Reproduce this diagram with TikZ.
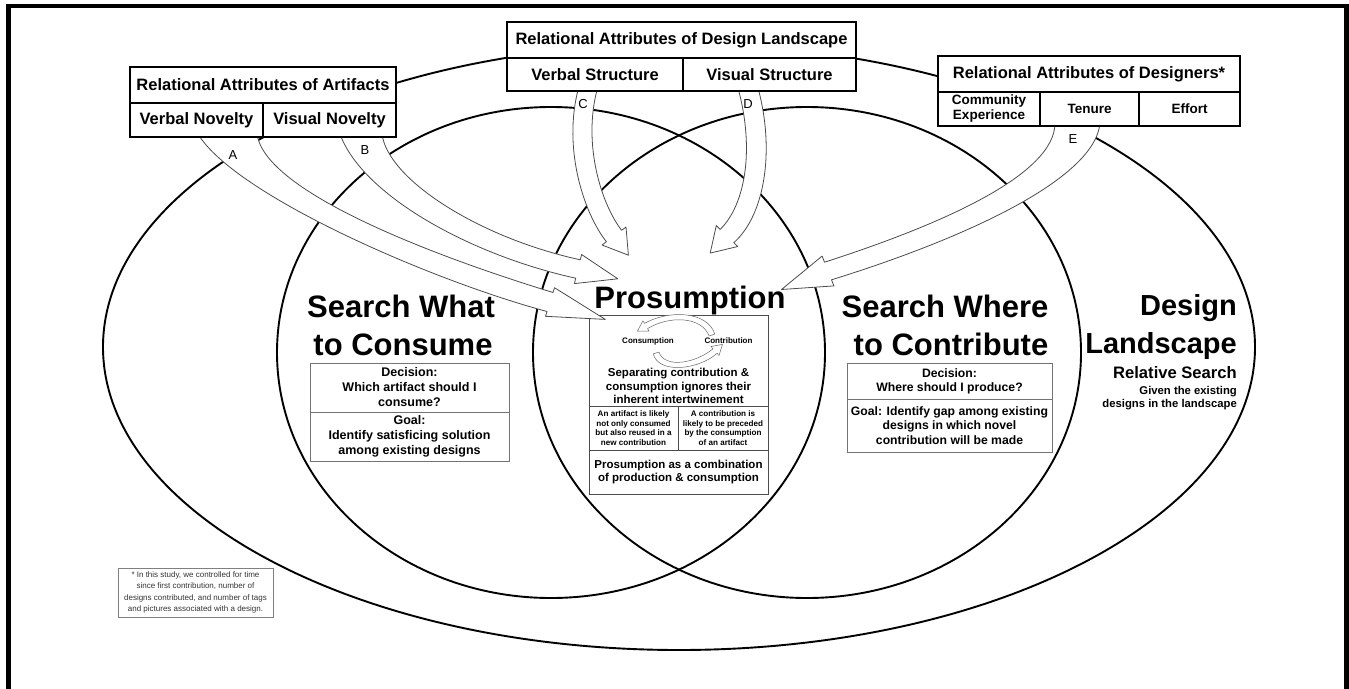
\documentclass[tikz,border=0pt]{standalone}
\usepackage{fontspec}
\setmainfont{Liberation Sans}
\newcommand\fsz[2]{\fontsize{#1}{#2}\selectfont}

\begin{document}
\begin{tikzpicture}[x=1pt, y=-1pt,
  ring/.style={draw=black, line width=1.9pt},
  titlecell/.style={draw=black, line width=1.7pt, fill=white, inner sep=0pt, outer sep=0pt,
    anchor=north west, align=center, font=\fsz{16.5}{19}\bfseries},
  subcell/.style={titlecell, font=\fsz{13.5}{15}\bfseries},
  infobox/.style={draw=black!55, line width=1pt, inner sep=0pt, outer sep=0pt,
    anchor=north west, align=center},
  blockarrow/.style={draw=black!70, line width=0.8pt, fill=white, line join=round},
  cyclearrow/.style={draw=black!60, line width=0.5pt, fill=white, line join=round},
  bigword/.style={font=\fsz{31}{36}\bfseries, anchor=base, inner sep=0pt},
  sideword/.style={anchor=base east, inner sep=0pt},
  letter/.style={font=\fsz{13}{15}, inner sep=0pt}
]
\useasboundingbox (0,0) rectangle (1349,688);

% the three overlapping regions
\draw[ring] (679,347) ellipse [x radius=576pt, y radius=303pt];
\draw[ring] (551,352.5) ellipse [x radius=274pt, y radius=245.5pt];
\draw[ring] (807,352.5) ellipse [x radius=274pt, y radius=245.5pt];

% consume side
\node[infobox, minimum width=199pt, minimum height=49pt, font=\fsz{12.5}{15}\bfseries] (swdec) at (310,363)
  {Decision:\\Which artifact should I\\consume?};
\node[infobox, minimum width=199pt, minimum height=49pt, font=\fsz{12.5}{15}\bfseries] (swgoal) at (310,412)
  {Goal:\\Identify satisficing solution\\among existing designs};

% contribute side
\node[infobox, minimum width=205pt, minimum height=36pt, font=\fsz{12.2}{14}\bfseries] (scdec) at (847,363)
  {Decision:\\Where should I produce?};
\node[infobox, minimum width=205pt, minimum height=53pt, font=\fsz{12.2}{14.5}\bfseries] (scgoal) at (847,399)
  {Goal: Identify gap among existing\\designs in which novel\\contribution will be made};

% prosumption panel
\node[infobox, draw=black!70, minimum width=179pt, minimum height=91pt] (ptop) at (589,315) {};
\node[infobox, draw=black!70, minimum width=89pt, minimum height=44pt, font=\fsz{8.1}{9.8}\bfseries] (pleft) at (589,406)
  {An artifact is likely\\not only consumed\\but also reused in a\\new contribution};
\node[infobox, draw=black!70, minimum width=90pt, minimum height=44pt, font=\fsz{8.1}{9.8}\bfseries] (pright) at (678,406)
  {A contribution is\\likely to be preceded\\by the consumption\\of an artifact};
\node[infobox, draw=black!70, minimum width=179pt, minimum height=44pt, font=\fsz{11.5}{12.8}\bfseries] (pbot) at (589,450)
  {Prosumption as a combination\\of production \& consumption};
\node[font=\fsz{11.5}{13.5}\bfseries, align=center, inner sep=0pt] (psep) at (678.5,386)
  {Separating contribution \&\\consumption ignores their\\inherent intertwinement};
\node[font=\fsz{8}{9}\bfseries, inner sep=0pt] (lcons) at (648,341) {Consumption};
\node[font=\fsz{8}{9}\bfseries, inner sep=0pt] (lcontr) at (728.5,341) {Contribution};
% the consumption / contribution cycle
\draw[cyclearrow] (714.8,334) .. controls (707,310.5) and (668,310) .. (644.5,323.4) -- (642.9,320.8)
  -- (637.4,331.1) -- (649.1,331.2) -- (647.5,328.6) .. controls (668,316) and (701,315.5) .. (709.2,336) -- cycle;
\draw[cyclearrow] (653.2,353.9) .. controls (659,375) and (700,369) .. (717,353.3) -- (719,355.5)
  -- (722.5,344.4) -- (711,346.5) -- (713,348.8) .. controls (696,363) and (665,369) .. (658.9,352.1) -- cycle;

% footnote
\node[infobox, draw=black!50, minimum width=155pt, minimum height=49pt, font=\fsz{8}{11.5}, text=black!80] (foot) at (118,568)
  {* In this study, we controlled for time\\since first contribution, number of\\designs contributed, and number of tags\\and pictures associated with a design.};

% influence arrows A--E
\draw[blockarrow] (198,134) .. controls (235,195) and (430,280) .. (547,311.5) -- (545.5,316.3)
  -- (605.3,319.4) -- (554.5,287.7) -- (553,292.5) .. controls (440,258) and (265,193) .. (257,134) -- cycle;
\draw[blockarrow] (340,134) .. controls (362,195) and (470,255) .. (575.7,278.2) -- (574.4,283.6)
  -- (617.8,278.8) -- (581.6,254.5) -- (580.3,259.8) .. controls (480,238) and (388,180) .. (382,134) -- cycle;
\draw[blockarrow] (578.5,88) .. controls (562,150) and (585,215) .. (606.4,241.7) -- (602,245)
  -- (628.4,255.2) -- (626,227) -- (621.6,230.3) .. controls (602,205) and (582,145) .. (597.5,88) -- cycle;
\draw[blockarrow] (738,88) .. controls (755,150) and (745,205) .. (720.2,229.4) -- (716.3,225.5)
  -- (710.2,253.1) -- (737.7,246.5) -- (733.8,242.7) .. controls (765,215) and (775,150) .. (758,88) -- cycle;
\draw[blockarrow] (1055,123) .. controls (1055,175) and (940,225) .. (824.5,262.2) -- (822.1,256.1)
  -- (781.5,289.5) -- (833.9,285.9) -- (831.5,279.8) .. controls (960,240) and (1095,180) .. (1100,123) -- cycle;

% attribute tables
\node[titlecell, minimum width=266pt, minimum height=36pt] (artT) at (130,67) {Relational Attributes of Artifacts};
\node[titlecell, minimum width=133pt, minimum height=34pt] (artV) at (130,103) {Verbal Novelty};
\node[titlecell, minimum width=133pt, minimum height=34pt] (artI) at (263,103) {Visual Novelty};

\node[titlecell, minimum width=349pt, minimum height=36pt] (lanT) at (507,22) {Relational Attributes of Design Landscape};
\node[titlecell, minimum width=176pt, minimum height=33pt] (lanV) at (507,58) {Verbal Structure};
\node[titlecell, minimum width=173pt, minimum height=33pt] (lanI) at (683,58) {Visual Structure};

\node[titlecell, minimum width=302pt, minimum height=36pt] (desT) at (938,56) {Relational Attributes of Designers*};
\node[subcell, minimum width=102pt, minimum height=34pt] (desC) at (938,92) {Community\\Experience};
\node[subcell, minimum width=99pt, minimum height=34pt] (desT2) at (1040,92) {Tenure};
\node[subcell, minimum width=101pt, minimum height=34pt] (desE) at (1139,92) {Effort};

% arrow letters
\node[letter] (la) at (233,155) {A};
\node[letter] (lb) at (365,150) {B};
\node[letter] (lc) at (583,104) {C};
\node[letter] (ld) at (748,104) {D};
\node[letter] (le) at (1073,139) {E};

% region headings
\node[bigword] (sw1) at (401,317) {Search What};
\node[bigword] (sw2) at (403,355) {to Consume};
\node[bigword] (pros) at (690,308) {Prosumption};
\node[bigword] (sc1) at (945,317) {Search Where};
\node[bigword] (sc2) at (951,355) {to Contribute};
\node[sideword, font=\fsz{29}{34}\bfseries] (dl1) at (1237,315) {Design};
\node[sideword, font=\fsz{29}{34}\bfseries] (dl2) at (1237,353) {Landscape};
\node[sideword, font=\fsz{16.6}{19}\bfseries] (rs) at (1237,378) {Relative Search};
\node[sideword, font=\fsz{11.3}{13}\bfseries] (ge1) at (1237,394) {Given the existing};
\node[sideword, font=\fsz{11.3}{13}\bfseries] (ge2) at (1237,407) {designs in the landscape};

% page frame
\draw[line width=4.5pt] (8.5,6) rectangle (1346.5,700);
\end{tikzpicture}
\end{document}
